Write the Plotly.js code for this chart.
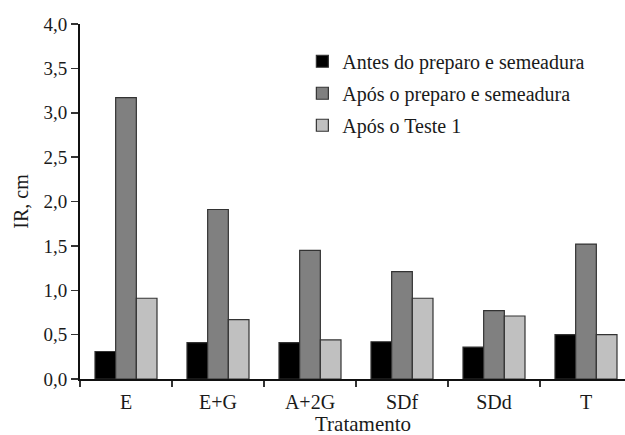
<!DOCTYPE html>
<html>
<head>
<meta charset="utf-8">
<script src="https://cdn.plot.ly/plotly-3.0.1.min.js"></script>
<style>html,body{margin:0;padding:0;background:#fff;}#chart{width:625px;height:435px;}</style>
</head>
<body>
<div id="chart"></div>
<script>
const categories = ["E", "E+G", "A+2G", "SDf", "SDd", "T"];
const seriesNames = ["Antes do preparo e semeadura", "Após o preparo e semeadura", "Após o Teste 1"];
const antes = [0.31, 0.41, 0.41, 0.42, 0.36, 0.50];
const aposPreparo = [3.17, 1.91, 1.45, 1.21, 0.77, 1.52];
const aposTeste1 = [0.91, 0.67, 0.44, 0.91, 0.71, 0.50];
const yTickVals = [0, 0.5, 1.0, 1.5, 2.0, 2.5, 3.0, 3.5, 4.0];
const xTitle = "Tratamento";
const yTitle = "IR, cm";

const colors = ["#000000", "#808080", "#c0c0c0"];
const values = [antes, aposPreparo, aposTeste1];
const SERIF = "Liberation Serif";

const traces = values.map((v, i) => ({
  type: "bar",
  name: seriesNames[i],
  legendgroup: "g" + i,
  x: categories,
  y: v,
  marker: {color: colors[i], line: {color: "#333333", width: 1.2}},
  hoverinfo: "skip"
}));

const layout = {
  width: 625, height: 435,
  margin: {l: 80, r: 0, t: 24, b: 56, pad: 0},
  paper_bgcolor: "#ffffff", plot_bgcolor: "#ffffff",
  separators: ",.",
  barmode: "group",
  bargap: 0.326,
  bargroupgap: 0,
  showlegend: true,
  legend: {
    x: 0.408, y: 0.95, xanchor: "left", yanchor: "top",
    font: {family: SERIF, size: 20, color: "#1a1a1a"},
    bgcolor: "rgba(0,0,0,0)",
    itemwidth: 30,
    traceorder: "grouped",
    tracegroupgap: 3
  },
  xaxis: {
    type: "category",
    range: [-0.5, 5.424],
    showline: true, linecolor: "#111", linewidth: 2,
    ticks: "outside", tickson: "boundaries", ticklen: 6, tickwidth: 1.5, tickcolor: "#333",
    ticklabelstandoff: 4,
    showgrid: false, zeroline: false,
    tickfont: {family: SERIF, size: 20, color: "#1a1a1a"}
  },
  yaxis: {
    range: [0, 4.0],
    tickvals: yTickVals,
    tickformat: ".1f",
    showline: true, linecolor: "#111", linewidth: 2,
    ticks: "outside", ticklen: 7, tickwidth: 1.5, tickcolor: "#333",
    showgrid: false, zeroline: false,
    tickfont: {family: SERIF, size: 19, color: "#1a1a1a"},
    title: {text: yTitle, font: {family: SERIF, size: 20, color: "#1a1a1a"}, standoff: 9}
  },
  annotations: [{
    text: xTitle, xref: "paper", yref: "paper",
    x: 0.519, y: -0.127, xanchor: "center", yanchor: "middle",
    showarrow: false,
    font: {family: SERIF, size: 21, color: "#1a1a1a"}
  }]
};

Plotly.newPlot("chart", traces, layout, {displayModeBar: false, staticPlot: true});
</script>
</body>
</html>
